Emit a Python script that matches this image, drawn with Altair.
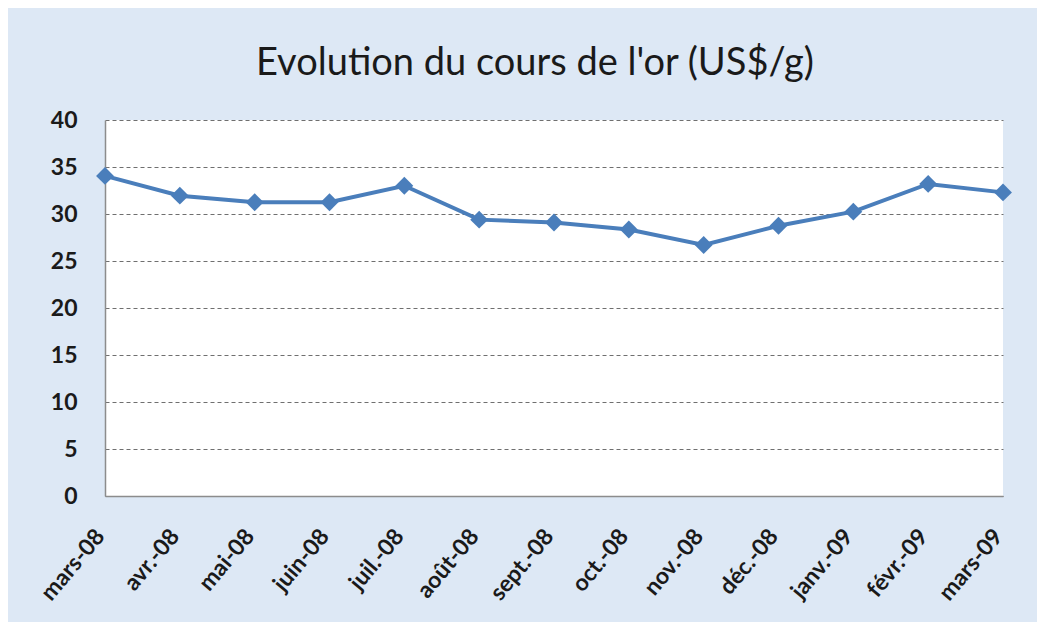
import altair as alt
import pandas as pd

months = ["mars-08", "avr.-08", "mai-08", "juin-08", "juil.-08", "août-08", "sept.-08",
          "oct.-08", "nov.-08", "déc.-08", "janv.-09", "févr.-09", "mars-09"]
prices = [34.05, 31.95, 31.25, 31.25, 33.0, 29.4, 29.1, 28.35, 26.7, 28.75, 30.25, 33.2, 32.3]
y_ticks = [0, 5, 10, 15, 20, 25, 30, 35, 40]

df = pd.DataFrame({"mois": months, "cours": prices})

FONT = "Lato"
BLUE = "#4A7EBB"

base = alt.Chart(df).encode(
    x=alt.X("mois:N", sort=months,
            scale=alt.Scale(type="point", padding=0),
            axis=alt.Axis(title=None, labelAngle=-50, labelFontSize=23, labelFontWeight="bold",
                          labelFont=FONT, labelColor="#1a1a1a", ticks=False, grid=False,
                          domainColor="#8c8c8c", domainWidth=1.5, labelPadding=36,
                          labelOffset=-5)),
    y=alt.Y("cours:Q", scale=alt.Scale(domain=[0, 40], nice=False),
            axis=alt.Axis(title=None, values=y_ticks, labelFontSize=23, labelFontWeight="bold",
                          labelFont=FONT, labelColor="#1a1a1a", ticks=False, grid=True,
                          gridDash=[4, 3], gridColor="#6f6f6f", gridWidth=1,
                          domainColor="#8c8c8c", domainWidth=1.5, labelPadding=28)),
)

line = base.mark_line(color=BLUE, strokeWidth=4)
pts = base.mark_point(shape="diamond", filled=True, size=320, color=BLUE, opacity=1)

chart = (line + pts).properties(
    width=898,
    height=376,
    title=alt.Title("Evolution du cours de l'or (US$/g)", font=FONT, fontSize=38,
                    fontWeight="normal", color="#1a1a1a", anchor="middle", dx=-19, offset=26),
    background="#dde8f5",
    padding={"left": 97, "top": 112, "right": 34, "bottom": 126},
    autosize=alt.AutoSizeParams(type="none"),
).configure_view(fill="white", stroke=None)

chart.save("out.html", embed_options={"renderer": "svg", "actions": False})
